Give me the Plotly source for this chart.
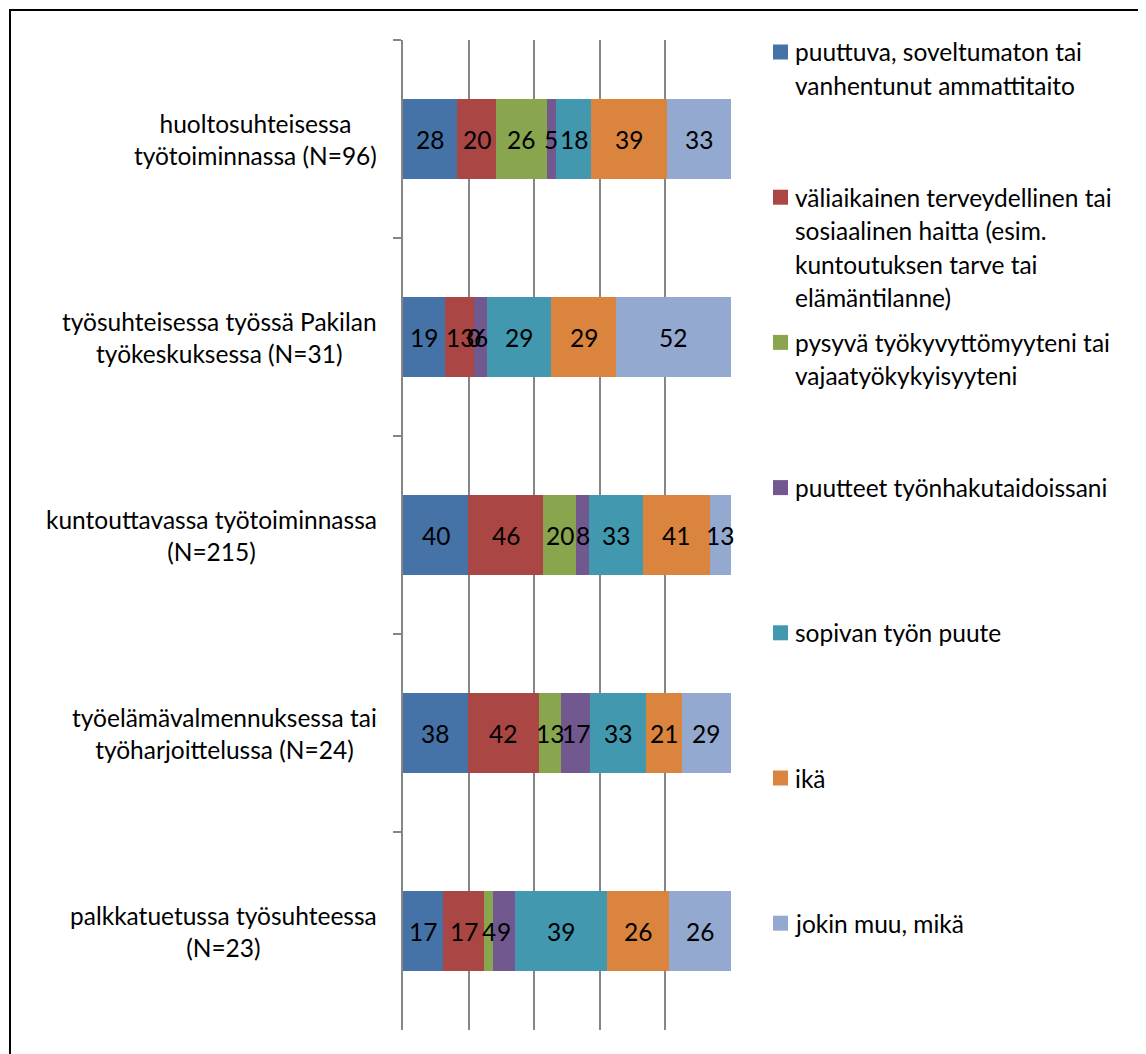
import plotly.graph_objects as go

# ---- data ----
categories = [
    "huoltosuhteisessa työtoiminnassa (N=96)",
    "työsuhteisessa työssä Pakilan työkeskuksessa (N=31)",
    "kuntouttavassa työtoiminnassa (N=215)",
    "työelämävalmennuksessa tai työharjoittelussa (N=24)",
    "palkkatuetussa työsuhteessa (N=23)",
]
category_label_lines = [
    ["huoltosuhteisessa", "työtoiminnassa (N=96)"],
    ["työsuhteisessa työssä Pakilan", "työkeskuksessa (N=31)"],
    ["kuntouttavassa työtoiminnassa", "(N=215)"],
    ["työelämävalmennuksessa tai", "työharjoittelussa (N=24)"],
    ["palkkatuetussa työsuhteessa", "(N=23)"],
]
series_names = [
    "puuttuva, soveltumaton tai vanhentunut ammattitaito",
    "väliaikainen terveydellinen tai sosiaalinen haitta (esim. kuntoutuksen tarve tai elämäntilanne)",
    "pysyvä työkyvyttömyyteni tai vajaatyökykyisyyteni",
    "puutteet työnhakutaidoissani",
    "sopivan työn puute",
    "ikä",
    "jokin muu, mikä",
]
legend_lines = [
    ["puuttuva, soveltumaton tai", "vanhentunut ammattitaito"],
    ["väliaikainen terveydellinen tai", "sosiaalinen haitta (esim.", "kuntoutuksen tarve tai", "elämäntilanne)"],
    ["pysyvä työkyvyttömyyteni tai", "vajaatyökykyisyyteni"],
    ["puutteet työnhakutaidoissani"],
    ["sopivan työn puute"],
    ["ikä"],
    ["jokin muu, mikä"],
]
puuttuva = [28, 19, 40, 38, 17]
valiaikainen = [20, 13, 46, 42, 17]
pysyva = [26, 0, 20, 13, 4]
puutteet = [5, 6, 8, 17, 9]
sopivan = [18, 29, 33, 33, 39]
ika = [39, 29, 41, 21, 26]
jokin_muu = [33, 52, 13, 29, 26]

series_values = [puuttuva, valiaikainen, pysyva, puutteet, sopivan, ika, jokin_muu]
colors = ["#4572A7", "#AA4643", "#89A54E", "#71588F", "#4198AF", "#DB843D", "#93A9CF"]

FONT = "Lato"
FS = 24.5

# ---- geometry (pixels of the window; page body has an 8px margin) ----
OFF = 8
W, H = 1146 - OFF, 1054 - OFF
L, R, T, B = 403, 731, 40, 1030          # plot area in window pixels
pw, ph = R - L, B - T


def px_x(x):
    return (x - L) / pw


def px_y(y):
    return (B - y) / ph


fig = go.Figure()
for name, vals, col in zip(series_names, series_values, colors):
    fig.add_trace(go.Bar(
        y=categories, x=vals, name=name, orientation="h",
        marker=dict(color=col, line=dict(width=0)),
        showlegend=False, hoverinfo="x+y+name",
    ))

annotations = []
# value labels, centred in each segment
totals = [sum(s[i] for s in series_values) for i in range(len(categories))]
for i, cat in enumerate(categories):
    cum = 0
    for vals in series_values:
        v = vals[i]
        mid = (cum + v / 2) / totals[i] * 100
        annotations.append(dict(
            x=mid, y=cat, xref="x", yref="y", text=str(v), showarrow=False,
            font=dict(family=FONT, size=FS, color="black"),
        ))
        cum += v

# category labels (centred multi-line block, right edge near axis)
for cat, lines in zip(categories, category_label_lines):
    annotations.append(dict(
        x=0, y=cat, xref="paper", yref="y", xanchor="right", yanchor="middle",
        xshift=-24, align="center", text="<br>".join(lines), showarrow=False,
        font=dict(family=FONT, size=FS, color="black"),
    ))

# legend (manual, evenly spaced as in the original)
shapes = []
first_y, step, line_h = 52, 145.2, 33.5
for k, (lines, col) in enumerate(zip(legend_lines, colors)):
    y0 = first_y + k * step
    shapes.append(dict(
        type="rect", xref="paper", yref="paper",
        x0=px_x(773), x1=px_x(788), y0=px_y(y0 + 7.5), y1=px_y(y0 - 7.5),
        fillcolor=col, line=dict(width=0),
    ))
    for j, ln in enumerate(lines):
        annotations.append(dict(
            x=px_x(793), y=px_y(y0 + j * line_h), xref="paper", yref="paper",
            xanchor="left", yanchor="middle", text=ln, showarrow=False,
            font=dict(family=FONT, size=FS, color="black"),
        ))

# outer border
shapes.append(dict(
    type="rect", xref="paper", yref="paper",
    x0=px_x(10), x1=px_x(1145), y0=px_y(1062), y1=px_y(10),
    line=dict(color="black", width=2), fillcolor="rgba(0,0,0,0)",
))

fig.update_layout(
    width=W, height=H,
    margin=dict(l=L - OFF, r=W - (R - OFF), t=T - OFF, b=H - (B - OFF), pad=0),
    barmode="stack", barnorm="percent", bargap=0.6,
    plot_bgcolor="white", paper_bgcolor="white",
    font=dict(family=FONT, size=FS, color="black"),
    annotations=annotations, shapes=shapes,
    showlegend=False,
    xaxis=dict(
        range=[0, 100], tick0=0, dtick=20, showgrid=True,
        gridcolor="#868686", gridwidth=1.5, showticklabels=False,
        zeroline=False, showline=False, ticks="",
    ),
    yaxis=dict(
        type="category", categoryorder="array", categoryarray=categories,
        range=[4.5, -0.5], showgrid=False, showticklabels=False,
        showline=True, linecolor="#868686", linewidth=1.5,
        ticks="outside", tickson="boundaries", ticklen=8,
        tickcolor="#868686", tickwidth=1.5, zeroline=False,
    ),
)

fig.write_html("out.html")
